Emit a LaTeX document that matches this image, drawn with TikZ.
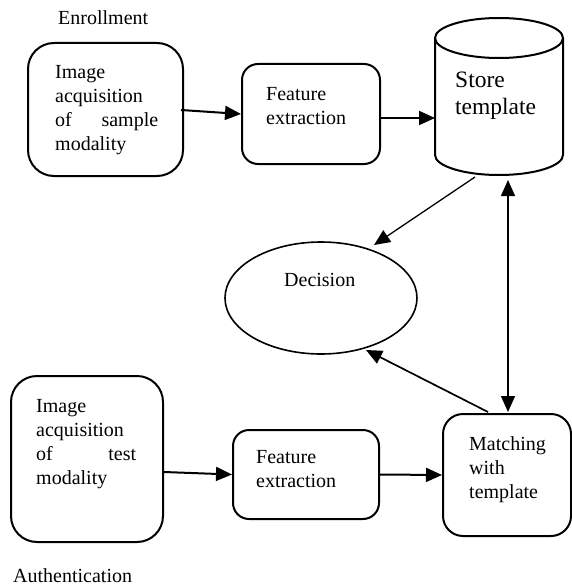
\documentclass[tikz,border=0pt]{standalone}
\usepackage{fontspec}
\setmainfont{Liberation Serif}
\usetikzlibrary{arrows.meta,shapes.geometric}
\begin{document}
\begin{tikzpicture}[x=1pt,y=-1pt,
  box/.style={draw, line width=2pt, rounded corners=#1, inner sep=0pt},
  box/.default=16pt,
  hidden/.style={inner sep=0pt, outer sep=0pt},
  txt/.style={anchor=base west, inner sep=0pt, font=\fontsize{20}{24}\selectfont},
  bigtxt/.style={anchor=base west, inner sep=0pt, font=\fontsize{23.5}{28}\selectfont},
  >={Triangle[length=16pt,width=14pt]},
  arr/.style={line width=2pt, ->},
  thinarr/.style={line width=1.3pt, ->}]
\useasboundingbox[fill=white] (0,0) rectangle (572,586);

% boxes
\node[box=26pt, minimum width=155pt, minimum height=133pt] (A) at (105.5,109.5) {};
\node[box=16pt, minimum width=138pt, minimum height=100pt] (B) at (311,114) {};
\node[hidden, minimum width=128pt, minimum height=157pt] (S) at (499,96.5) {};
\node[ellipse, draw, line width=1.6pt, inner sep=0pt, minimum width=192pt, minimum height=112pt] (Dec) at (321,298) {};
\node[box=26pt, minimum width=152pt, minimum height=166pt] (D) at (87,459) {};
\node[box=16pt, minimum width=146pt, minimum height=89pt] (F) at (306,474.5) {};
\node[box=20pt, minimum width=128pt, minimum height=122pt] (M) at (507,475) {};

% cylinder
\draw[line width=2pt] (499,38) ellipse [x radius=64pt, y radius=20pt];
\draw[line width=2pt] (435,38) -- (435,155) arc[start angle=180, end angle=360, x radius=64pt, y radius=20pt] -- (563,38);

% texts
\node[txt] (tEnr) at (58,25) {Enrollment};
\node[txt] (tA) at (55,78) {\parbox[t]{103pt}{Image\\acquisition\\\hbox to 103pt{of\hfill sample}\\modality}};
\node[txt] (tB) at (266,100) {\parbox[t]{100pt}{Feature\\extraction}};
\node[bigtxt] (tS) at (455,87) {\parbox[t]{100pt}{Store\\template}};
\node[txt] (tDec) at (284,286) {Decision};
\node[txt] (tD) at (36,412) {\parbox[t]{100pt}{Image\\acquisition\\\hbox to 100pt{of\hfill test}\\modality}};
\node[txt] (tF) at (256,463) {\parbox[t]{100pt}{Feature\\extraction}};
\node[txt] (tM) at (469,450) {\parbox[t]{100pt}{Matching\\with\\template}};
\node[txt] (tAuth) at (13,582) {Authentication};

% connectors
\draw[arr] ([shift={(-3,0.5)}]A.east) -- (B.west);
\draw[arr] ([shift={(0,4)}]B.east) -- ([shift={(0,21.5)}]S.west);
\draw[thinarr] ([shift={(-24,2)}]S.south) -- ([shift={(53,-53)}]Dec.center);
\draw[thinarr, <->] ([shift={(9,5)}]S.south) -- ([shift={(1,-1)}]M.north);
\draw[thinarr, line width=1.7pt] ([shift={(-19,-1)}]M.north) -- ([shift={(45,52)}]Dec.center);
\draw[arr] ([shift={(0,13)}]D.east) -- (F.west);
\draw[arr] (F.east) -- (M.west);
\end{tikzpicture}
\end{document}
